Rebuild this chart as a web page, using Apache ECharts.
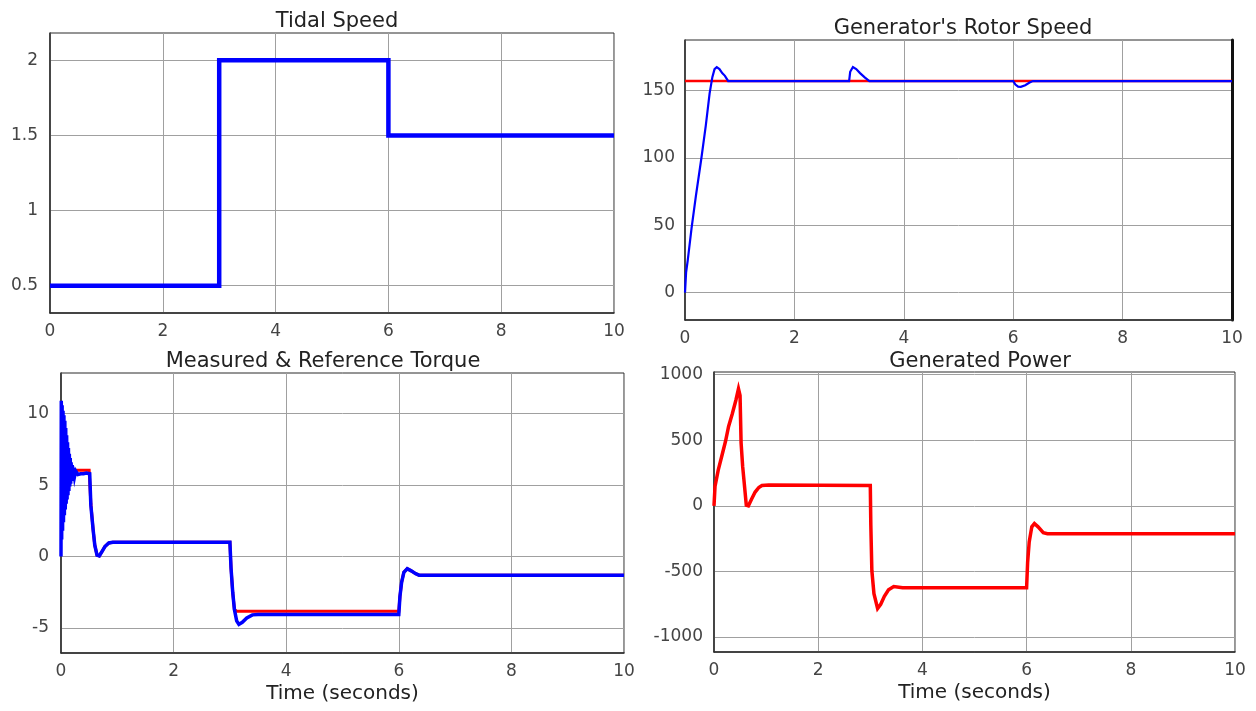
<!DOCTYPE html>
<html>
<head>
<meta charset="utf-8">
<script src="https://cdn.jsdelivr.net/npm/echarts@6/dist/echarts.min.js"></script>
<style>html,body{margin:0;padding:0;background:#fff}#c{width:1256px;height:711px}</style>
</head>
<body>
<div id="c"></div>
<script>
// ---- Tidal speed ----
const tidalT = [0, 3, 3, 6, 6, 10];
const tidalV = [0.5, 0.5, 2, 2, 1.5, 1.5];
const tidalTicks = [0.5, 1, 1.5, 2];

// ---- Generator rotor speed ----
const speedRefT = [0, 10];
const speedRefV = [157.08, 157.08];
const speedT = [0, 0.02, 0.05, 0.12, 0.2, 0.3, 0.38, 0.45, 0.5, 0.54, 0.58, 0.63, 0.68, 0.73, 0.79, 3.0, 3.02, 3.07, 3.13, 3.2, 3.28, 3.37, 6.0, 6.04, 6.09, 6.14, 6.22, 6.3, 6.36, 10];
const speedV = [0, 15, 24, 48, 72, 100, 124, 148, 160, 166, 167.5, 166, 163, 161, 157.1, 157.1, 164, 167.5, 166, 163, 160, 157.1, 157.1, 154.5, 153, 152.8, 154, 156, 157.1, 157.1];
const speedTicks = [0, 50, 100, 150];

// ---- Measured & reference torque ----
const torqueT = [0, 0.005, 0.012, 0.02, 0.028, 0.036, 0.044, 0.052, 0.06, 0.068, 0.076, 0.084, 0.092, 0.1, 0.108, 0.116, 0.124, 0.132, 0.14, 0.148, 0.156, 0.164, 0.172, 0.18, 0.19, 0.2, 0.21, 0.22, 0.24, 0.26, 0.3, 0.35, 0.4, 0.45, 0.51, 0.53, 0.57, 0.6, 0.64, 0.68, 0.72, 0.78, 0.85, 0.92, 3.0, 3.02, 3.05, 3.08, 3.12, 3.16, 3.22, 3.3, 3.4, 3.5, 6.0, 6.02, 6.05, 6.09, 6.15, 6.22, 6.3, 6.36, 10];
const torqueV = [0, 10.9, 1.2, 10.6, 1.8, 10.2, 2.4, 9.9, 2.9, 9.5, 3.3, 9.0, 3.7, 8.5, 4.0, 8.0, 4.3, 7.6, 4.6, 7.2, 4.9, 6.9, 5.1, 6.6, 5.3, 6.4, 5.5, 6.2, 5.6, 6.0, 5.75, 5.8, 5.8, 5.85, 5.8, 3.6, 1.9, 0.8, 0.1, 0.05, 0.3, 0.7, 0.95, 1.0, 1.0, -0.8, -2.5, -3.7, -4.5, -4.75, -4.6, -4.3, -4.08, -4.05, -4.05, -2.8, -1.8, -1.1, -0.85, -1.0, -1.2, -1.3, -1.3];
const torqueRefT = [0, 0.5, 0.52, 0.53, 0.57, 0.6, 0.64, 0.68, 0.72, 0.78, 0.85, 0.92, 3.0, 3.02, 3.05, 3.08, 3.12, 6.0, 6.02, 6.05, 6.09, 6.15, 6.22, 6.3, 6.36, 10];
const torqueRefV = [6.05, 6.05, 6.0, 3.7, 1.9, 0.8, 0.1, 0.05, 0.3, 0.7, 0.95, 1.0, 1.0, -0.8, -2.5, -3.7, -3.82, -3.82, -2.8, -1.8, -1.1, -0.85, -1.0, -1.2, -1.3, -1.3];
const torqueTicks = [-5, 0, 5, 10];

// ---- Generated power ----
const powerT = [0, 0.02, 0.08, 0.15, 0.22, 0.28, 0.35, 0.42, 0.47, 0.5, 0.52, 0.55, 0.57, 0.62, 0.66, 0.72, 0.79, 0.86, 0.92, 1.05, 3.0, 3.01, 3.03, 3.07, 3.14, 3.2, 3.27, 3.35, 3.45, 3.62, 6.0, 6.02, 6.05, 6.1, 6.15, 6.22, 6.32, 6.4, 10];
const powerV = [0, 150, 270, 380, 490, 605, 700, 805, 892, 842, 480, 300, 217, 5, 0, 50, 105, 140, 155, 158, 155, -145, -495, -670, -782, -750, -690, -640, -615, -625, -625, -428, -275, -160, -135, -160, -204, -212, -212];
const powerTicks = [-1000, -500, 0, 500, 1000];

const timeTicks = [0, 2, 4, 6, 8, 10];

const pairs = (t, v) => t.map((x, i) => [x, v[i]]);

const FONT = 'DejaVu Sans';
const tickColor = '#444';
const gridColor = '#a0a0a0';
const borderColor = '#2a2a2a';
const plain = v => String(v);

function xAx(gi, withName) {
  const a = {
    type: 'value', gridIndex: gi, min: 0, max: 10, interval: 2,
    axisLine: { show: true, onZero: false, lineStyle: { color: borderColor, width: 1.5 } },
    axisTick: { show: false },
    splitLine: { show: true, lineStyle: { color: gridColor, width: 1 } },
    axisLabel: { color: tickColor, fontFamily: FONT, fontSize: 17, margin: 10, formatter: plain }
  };
  if (withName) {
    a.name = 'Time (seconds)';
    a.nameLocation = 'middle';
    a.nameGap = 31;
    a.nameTextStyle = { color: '#222', fontFamily: FONT, fontSize: 20 };
  }
  return a;
}
function yAx(gi, min, max, ticks, margin) {
  return {
    type: 'value', gridIndex: gi, min: min, max: max,
    axisLine: { show: true, onZero: false, lineStyle: { color: borderColor, width: 1.5 } },
    axisTick: { show: false, customValues: ticks },
    splitLine: { show: true, lineStyle: { color: gridColor, width: 1 } },
    axisLabel: { color: tickColor, fontFamily: FONT, fontSize: 17, margin: margin, customValues: ticks,
      showMinLabel: true, showMaxLabel: true, formatter: plain }
  };
}
function ttl(text, cx, top) {
  return { text: text, left: cx, top: top, textAlign: 'center',
    textStyle: { color: '#222', fontFamily: FONT, fontSize: 21, fontWeight: 'normal' } };
}
function line(name, data, xi, yi, color, width, z) {
  return { name: name, type: 'line', xAxisIndex: xi, yAxisIndex: yi, data: data,
    showSymbol: false, symbol: 'none', z: z,
    lineStyle: { color: color, width: width, join: 'miter' } };
}

const chart = echarts.init(document.getElementById('c'), null, { renderer: 'canvas' });
chart.setOption({
  animation: false,
  backgroundColor: '#fff',
  title: [
    ttl('Tidal Speed', 332, 6),
    ttl("Generator's Rotor Speed", 958, 13),
    ttl('Measured & Reference Torque', 318, 346),
    ttl('Generated Power', 975, 346)
  ],
  grid: [
    { left: 50, top: 33, width: 564, height: 280, show: true, borderColor: borderColor, borderWidth: 1, backgroundColor: '#fff' },
    { left: 685, top: 40, width: 547, height: 280, show: true, borderColor: borderColor, borderWidth: 1, backgroundColor: '#fff' },
    { left: 61, top: 373, width: 563, height: 280, show: true, borderColor: borderColor, borderWidth: 1, backgroundColor: '#fff' },
    { left: 714, top: 372, width: 521, height: 280, show: true, borderColor: borderColor, borderWidth: 1, backgroundColor: '#fff' }
  ],
  xAxis: [xAx(0, false), xAx(1, false), xAx(2, true), xAx(3, true)],
  yAxis: [
    yAx(0, 0.318, 2.182, tidalTicks, 12),
    yAx(1, -20.3, 187.6, speedTicks, 10),
    yAx(2, -6.75, 12.85, torqueTicks, 12),
    yAx(3, -1114, 1020, powerTicks, 11),
    { type: 'value', gridIndex: 1, position: 'right', min: -20.3, max: 187.6,
      axisLine: { show: true, onZero: false, lineStyle: { color: '#111', width: 3 } },
      axisTick: { show: false }, axisLabel: { show: false }, splitLine: { show: false } }
  ],
  series: [
    line('Tidal Speed', pairs(tidalT, tidalV), 0, 0, '#0000ff', 4.5, 3),
    line('Reference Speed', pairs(speedRefT, speedRefV), 1, 1, '#ff0000', 2.5, 2),
    line('Rotor Speed', pairs(speedT, speedV), 1, 1, '#0000ff', 2.2, 3),
    line('Reference Torque', pairs(torqueRefT, torqueRefV), 2, 2, '#ff0000', 3, 2),
    line('Measured Torque', pairs(torqueT, torqueV), 2, 2, '#0000ff', 3.5, 3),
    line('Generated Power', pairs(powerT, powerV), 3, 3, '#ff0000', 3.5, 3)
  ]
});
</script>
</body>
</html>
